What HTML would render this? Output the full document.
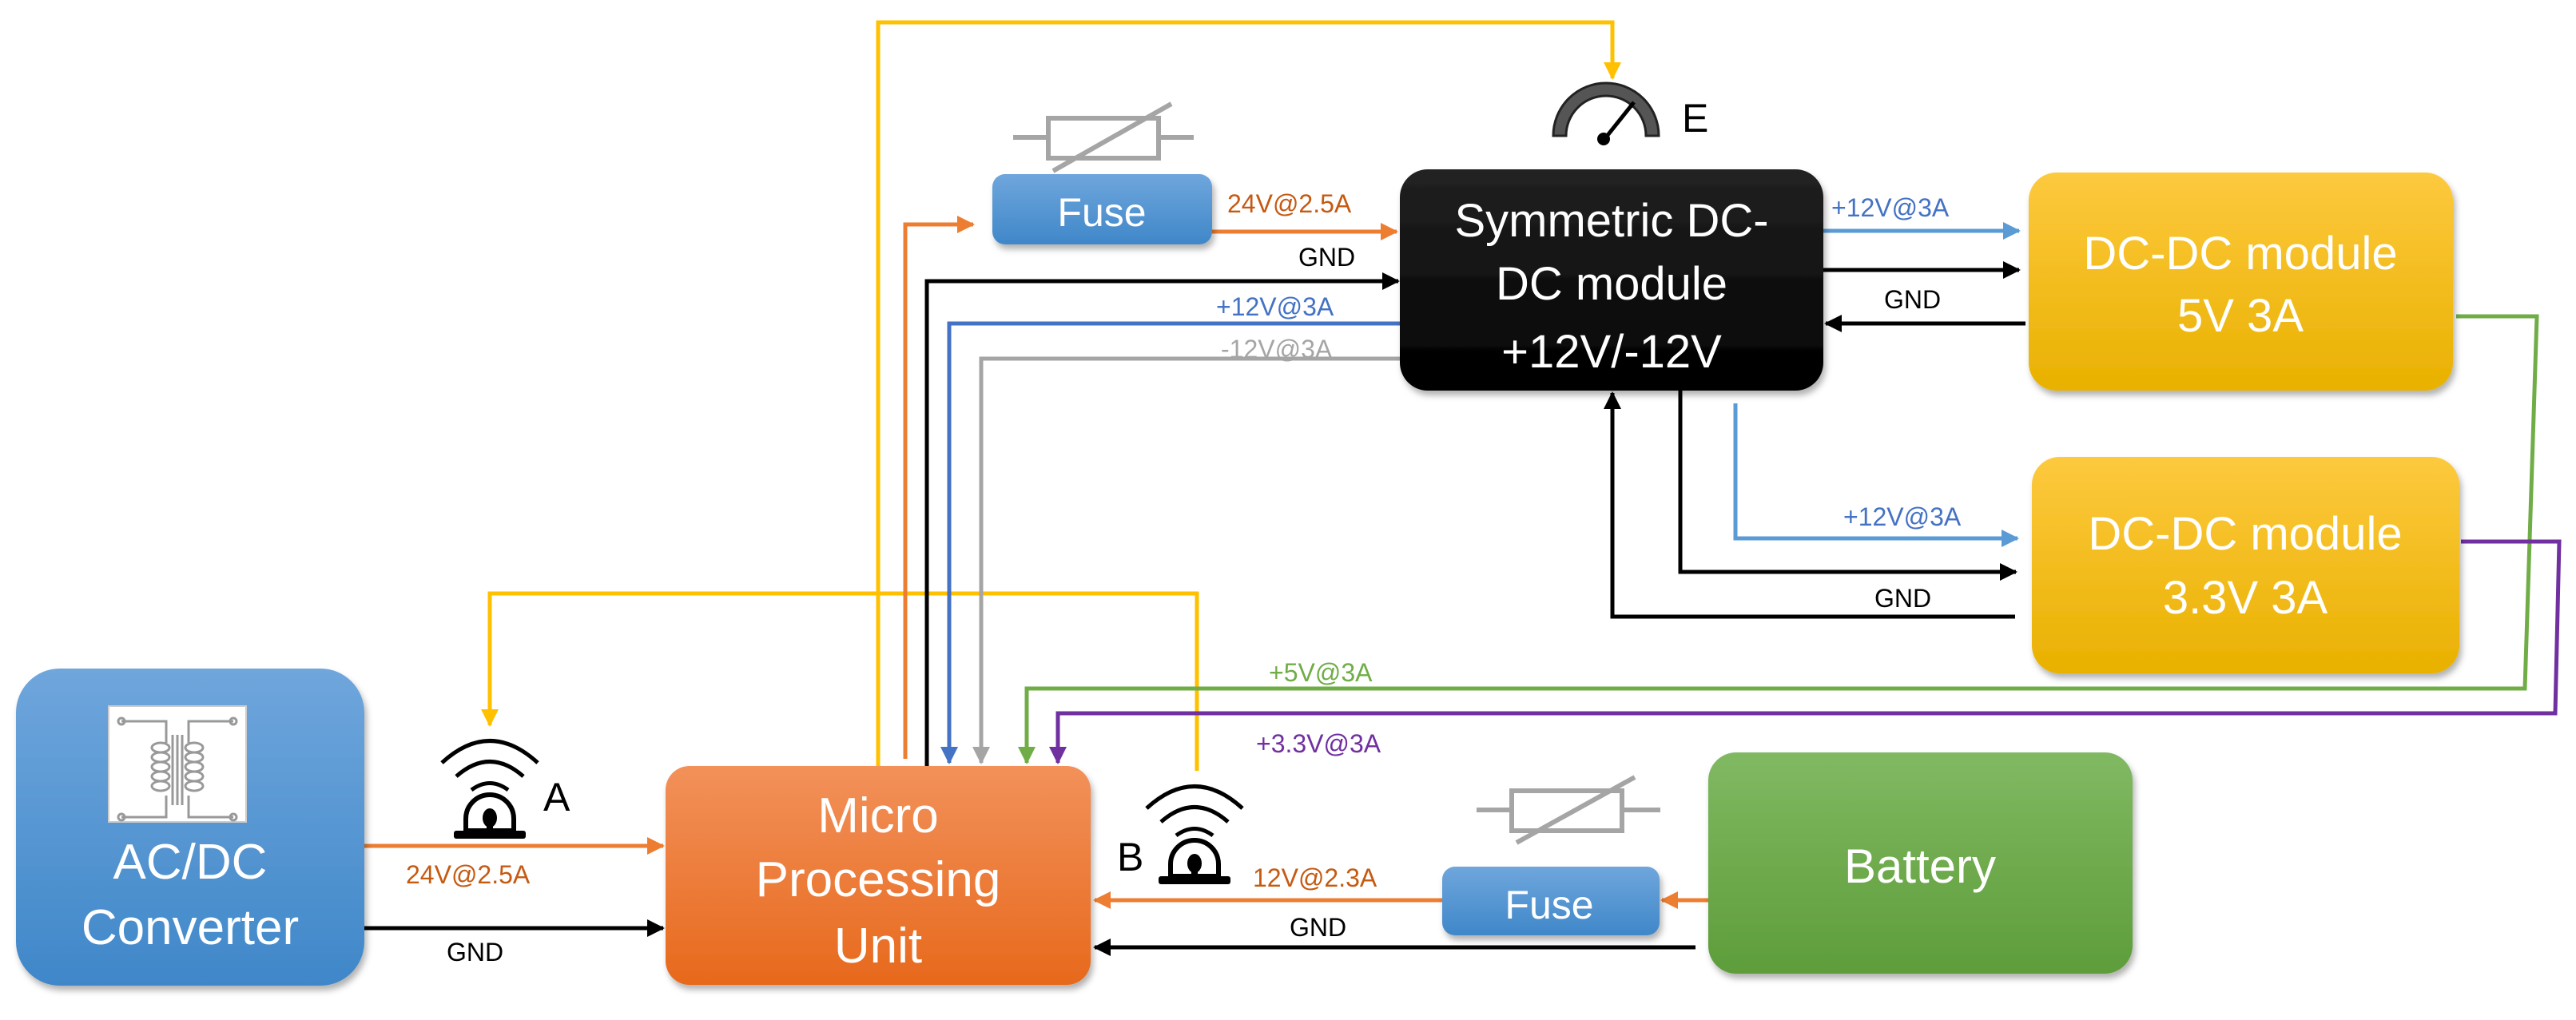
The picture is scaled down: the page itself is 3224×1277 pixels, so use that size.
<!DOCTYPE html>
<html><head><meta charset="utf-8"><style>
html,body{margin:0;padding:0;background:#fff;}
svg{display:block;}
text{font-family:"Liberation Sans",sans-serif;}
</style></head><body>
<svg width="3224" height="1277" viewBox="0 0 3224 1277" xmlns="http://www.w3.org/2000/svg">
<defs>
<linearGradient id="gb" x1="0" y1="0" x2="0" y2="1"><stop offset="0" stop-color="#6fa6dc"/><stop offset="1" stop-color="#3f87c9"/></linearGradient>
<linearGradient id="go" x1="0" y1="0" x2="0" y2="1"><stop offset="0" stop-color="#f2915a"/><stop offset="1" stop-color="#e7691c"/></linearGradient>
<linearGradient id="gy" x1="0" y1="0" x2="0" y2="1"><stop offset="0" stop-color="#fdc93e"/><stop offset="1" stop-color="#e9b100"/></linearGradient>
<linearGradient id="gg" x1="0" y1="0" x2="0" y2="1"><stop offset="0" stop-color="#80b962"/><stop offset="1" stop-color="#5e9d3a"/></linearGradient>
<linearGradient id="gk" x1="0" y1="0" x2="0" y2="1"><stop offset="0" stop-color="#222"/><stop offset="1" stop-color="#000"/></linearGradient>
<marker id="aK" markerWidth="22" markerHeight="22" refX="20" refY="11" orient="auto" markerUnits="userSpaceOnUse"><path d="M0,0 L22,11 L0,22z" fill="#000"/></marker>
<marker id="aO2" markerWidth="22" markerHeight="22" refX="20" refY="11" orient="auto" markerUnits="userSpaceOnUse"><path d="M0,0 L22,11 L0,22z" fill="#ed7d31"/></marker>
<marker id="aB" markerWidth="22" markerHeight="22" refX="20" refY="11" orient="auto" markerUnits="userSpaceOnUse"><path d="M0,0 L22,11 L0,22z" fill="#4472c4"/></marker>
<marker id="aLB" markerWidth="22" markerHeight="22" refX="20" refY="11" orient="auto" markerUnits="userSpaceOnUse"><path d="M0,0 L22,11 L0,22z" fill="#5b9bd5"/></marker>
<marker id="aG" markerWidth="22" markerHeight="22" refX="20" refY="11" orient="auto" markerUnits="userSpaceOnUse"><path d="M0,0 L22,11 L0,22z" fill="#a5a5a5"/></marker>
<marker id="aGr" markerWidth="22" markerHeight="22" refX="20" refY="11" orient="auto" markerUnits="userSpaceOnUse"><path d="M0,0 L22,11 L0,22z" fill="#70ad47"/></marker>
<marker id="aP" markerWidth="22" markerHeight="22" refX="20" refY="11" orient="auto" markerUnits="userSpaceOnUse"><path d="M0,0 L22,11 L0,22z" fill="#7030a0"/></marker>
<marker id="aY" markerWidth="22" markerHeight="22" refX="20" refY="11" orient="auto" markerUnits="userSpaceOnUse"><path d="M0,0 L22,11 L0,22z" fill="#ffc000"/></marker>
<filter id="sh" x="-5%" y="-5%" width="115%" height="120%"><feDropShadow dx="3" dy="6" stdDeviation="4" flood-color="#000" flood-opacity="0.3"/></filter>
</defs>

<g fill="none" stroke-width="5">
<polyline points="1099,959 1099,28 2018,28 2018,98" stroke="#ffc000" marker-end="url(#aY)"/>
<polyline points="1498,965 1498,743 613,743 613,908" stroke="#ffc000" marker-end="url(#aY)"/>
<polyline points="1133,950 1133,281 1218,281" stroke="#ed7d31" marker-end="url(#aO2)"/>
<polyline points="1160,959 1160,352 1750,352" stroke="#000" marker-end="url(#aK)"/>
<polyline points="1752,405 1188,405 1188,955" stroke="#4472c4" marker-end="url(#aB)"/>
<polyline points="1752,449 1228,449 1228,955" stroke="#a5a5a5" marker-end="url(#aG)"/>
<polyline points="3074,396 3175,396 3160,862 1285,862 1285,955" stroke="#70ad47" marker-end="url(#aGr)"/>
<polyline points="3080,678 3203,678 3198,893 1324,893 1324,955" stroke="#7030a0" marker-end="url(#aP)"/>
<polyline points="1517,290 1748,290" stroke="#ed7d31" marker-end="url(#aO2)"/>
<polyline points="2282,289 2527,289" stroke="#5b9bd5" marker-end="url(#aLB)"/>
<polyline points="2282,338 2527,338" stroke="#000" marker-end="url(#aK)"/>
<polyline points="2535,405 2285,405" stroke="#000" marker-end="url(#aK)"/>
<polyline points="2172,505 2172,674 2525,674" stroke="#5b9bd5" marker-end="url(#aLB)"/>
<polyline points="2103,489 2103,716 2523,716" stroke="#000" marker-end="url(#aK)"/>
<polyline points="2522,772 2018,772 2018,492" stroke="#000" marker-end="url(#aK)"/>
<polyline points="456,1059 830,1059" stroke="#ed7d31" marker-end="url(#aO2)"/>
<polyline points="456,1162 830,1162" stroke="#000" marker-end="url(#aK)"/>
<polyline points="1805,1127 1370,1127" stroke="#ed7d31" marker-end="url(#aO2)"/>
<polyline points="2138,1127 2080,1127" stroke="#ed7d31" marker-end="url(#aO2)"/>
<polyline points="2122,1186 1370,1186" stroke="#000" marker-end="url(#aK)"/>
</g>

<rect x="20" y="837" width="436" height="397" rx="55" fill="url(#gb)" filter="url(#sh)"/>
<rect x="833" y="959" width="532" height="274" rx="30" fill="url(#go)" filter="url(#sh)"/>
<rect x="1242" y="218" width="275" height="88" rx="16" fill="url(#gb)" filter="url(#sh)"/>
<rect x="1752" y="212" width="530" height="277" rx="35" fill="url(#gk)" filter="url(#sh)"/>
<rect x="2539" y="216" width="531" height="273" rx="35" fill="url(#gy)" filter="url(#sh)"/>
<rect x="2543" y="572" width="535" height="271" rx="35" fill="url(#gy)" filter="url(#sh)"/>
<rect x="2138" y="942" width="531" height="277" rx="35" fill="url(#gg)" filter="url(#sh)"/>
<rect x="1805" y="1085" width="272" height="86" rx="16" fill="url(#gb)" filter="url(#sh)"/>

<rect x="136" y="884" width="172" height="145" fill="#fff" stroke="#ccc" stroke-width="2"/>
<g fill="none" stroke="#999" stroke-width="3">
<polyline points="152,903 208,903 208,930"/><polyline points="152,1023 208,1023 208,996"/>
<polyline points="292,903 236,903 236,930"/><polyline points="292,1023 236,1023 236,996"/>
<circle cx="152" cy="903" r="4"/><circle cx="152" cy="1023" r="4"/><circle cx="292" cy="903" r="4"/><circle cx="292" cy="1023" r="4"/>
<line x1="216" y1="920" x2="216" y2="1008"/><line x1="222" y1="920" x2="222" y2="1008"/><line x1="228" y1="920" x2="228" y2="1008"/>
<ellipse cx="201" cy="936" rx="11" ry="6"/><ellipse cx="201" cy="948" rx="11" ry="6"/><ellipse cx="201" cy="960" rx="11" ry="6"/><ellipse cx="201" cy="972" rx="11" ry="6"/><ellipse cx="201" cy="984" rx="11" ry="6"/>
<ellipse cx="243" cy="936" rx="11" ry="6"/><ellipse cx="243" cy="948" rx="11" ry="6"/><ellipse cx="243" cy="960" rx="11" ry="6"/><ellipse cx="243" cy="972" rx="11" ry="6"/><ellipse cx="243" cy="984" rx="11" ry="6"/>
</g>

<g fill="none" stroke="#a5a5a5" stroke-width="6">
<line x1="1268" y1="172" x2="1312" y2="172"/><line x1="1450" y1="172" x2="1494" y2="172"/>
<rect x="1312" y="148" width="138" height="50"/><line x1="1318" y1="214" x2="1466" y2="130"/>
<line x1="1848" y1="1014" x2="1892" y2="1014"/><line x1="2030" y1="1014" x2="2078" y2="1014"/>
<rect x="1892" y="990" width="138" height="50"/><line x1="1898" y1="1055" x2="2046" y2="973"/>
</g>

<g fill="none" stroke="#000" stroke-width="5">
<path d="M553,955 Q613,900 673,955"/><path d="M571,972 Q613,935 655,972"/><path d="M590,989 Q613,972 636,989"/>
<path d="M1435,1012 Q1495,957 1555,1012"/><path d="M1453,1029 Q1495,992 1537,1029"/><path d="M1472,1046 Q1495,1029 1518,1046"/>
</g>
<path d="M583,1040 L583,1025 A30,30 0 0 1 643,1025 L643,1040z" fill="none" stroke="#000" stroke-width="6"/>
<ellipse cx="613" cy="1024" rx="9" ry="12" fill="#000"/><rect x="609" y="1024" width="8" height="16" fill="#000"/>
<rect x="568" y="1040" width="90" height="10" rx="3" fill="#000"/>
<path d="M1465,1097 L1465,1082 A30,30 0 0 1 1525,1082 L1525,1097z" fill="none" stroke="#000" stroke-width="6"/>
<ellipse cx="1495" cy="1081" rx="9" ry="12" fill="#000"/><rect x="1491" y="1081" width="8" height="16" fill="#000"/>
<rect x="1450" y="1097" width="90" height="10" rx="3" fill="#000"/>

<path d="M1944,170 A66,66 0 0 1 2076,170 L2060,170 A50,50 0 0 0 1960,170z" fill="#555" stroke="#222" stroke-width="3"/>
<line x1="2005" y1="178" x2="2045" y2="128" stroke="#000" stroke-width="5"/>
<circle cx="2007" cy="174" r="8" fill="#000"/>

<g fill="#fff" font-size="62" text-anchor="middle">
<text x="238" y="1100">AC/DC</text><text x="238" y="1182">Converter</text>
<text x="1099" y="1042">Micro</text><text x="1099" y="1122">Processing</text><text x="1099" y="1205">Unit</text>
<text x="1379" y="283" font-size="50">Fuse</text>
<text x="1939" y="1150" font-size="50">Fuse</text>
<text x="2017" y="296" font-size="58">Symmetric DC-</text><text x="2017" y="375" font-size="58">DC module</text><text x="2017" y="460" font-size="58">+12V/-12V</text>
<text x="2804" y="337" font-size="58">DC-DC module</text><text x="2804" y="415" font-size="58">5V 3A</text>
<text x="2810" y="688" font-size="58">DC-DC module</text><text x="2810" y="768" font-size="58">3.3V 3A</text>
<text x="2403" y="1105" font-size="60">Battery</text>
</g>

<g fill="#000" font-size="50">
<text x="680" y="1015">A</text><text x="1398" y="1090">B</text><text x="2105" y="165">E</text>
</g>

<g font-size="32">
<text x="1536" y="266" fill="#c55a11">24V@2.5A</text>
<text x="1625" y="333" fill="#000">GND</text>
<text x="1522" y="395" fill="#4472c4">+12V@3A</text>
<text x="1528" y="448" fill="#a5a5a5">-12V@3A</text>
<text x="2292" y="271" fill="#4472c4">+12V@3A</text>
<text x="2358" y="386" fill="#000">GND</text>
<text x="2307" y="658" fill="#4472c4">+12V@3A</text>
<text x="2346" y="760" fill="#000">GND</text>
<text x="1588" y="853" fill="#70ad47">+5V@3A</text>
<text x="1572" y="942" fill="#7030a0">+3.3V@3A</text>
<text x="508" y="1106" fill="#c55a11">24V@2.5A</text>
<text x="559" y="1203" fill="#000">GND</text>
<text x="1568" y="1110" fill="#c55a11">12V@2.3A</text>
<text x="1614" y="1172" fill="#000">GND</text>
</g>
</svg>
</body></html>
